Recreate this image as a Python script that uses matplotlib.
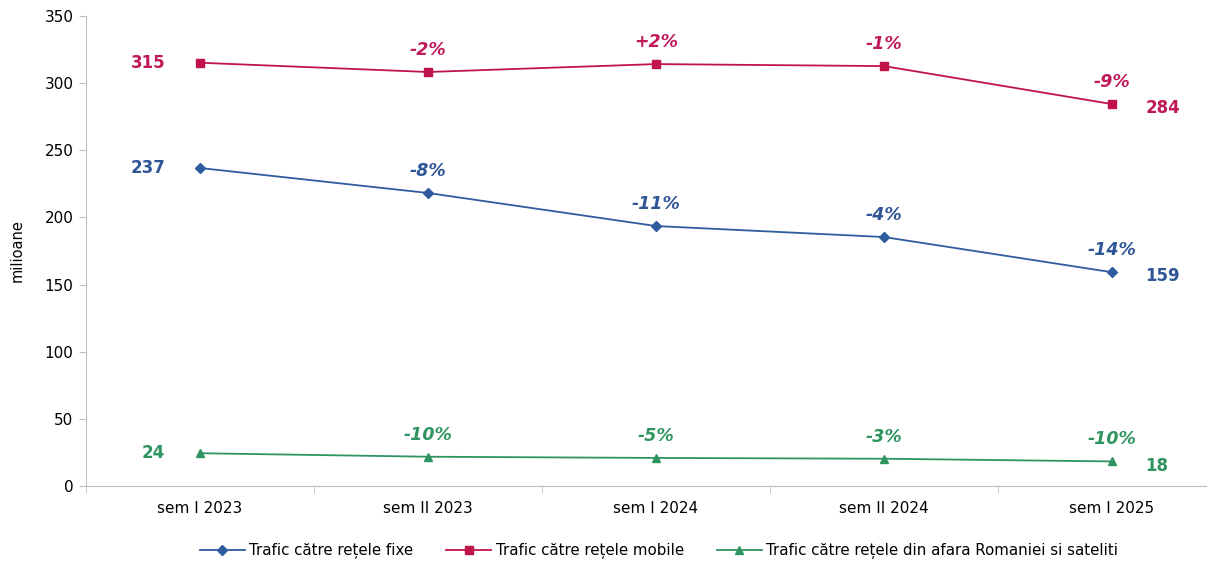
import matplotlib
matplotlib.use("Agg")
import matplotlib.pyplot as plt
from matplotlib.lines import Line2D

categories = ["sem I 2023", "sem II 2023", "sem I 2024", "sem II 2024", "sem I 2025"]
fixe = [236.8, 218.2, 193.6, 185.4, 159.2]
mobile = [315.2, 308.3, 314.2, 312.7, 284.4]
afara = [24.4, 21.8, 20.9, 20.3, 18.3]
pct_fixe = ["-8%", "-11%", "-4%", "-14%"]
pct_mobile = ["-2%", "+2%", "-1%", "-9%"]
pct_afara = ["-10%", "-5%", "-3%", "-10%"]
names = ["Trafic către rețele fixe", "Trafic către rețele mobile",
         "Trafic către rețele din afara Romaniei si sateliti"]

c_blue, c_blue_t = "#2E5C9E", "#2F5597"
c_red, c_red_t = "#C0134A", "#C0195A"
c_green, c_green_t = "#2E9460", "#2E9460"

plt.rcParams['font.family'] = ['DejaVu Sans']
fig = plt.figure(figsize=(12.07, 5.64), dpi=100)
ax = fig.add_axes([86/1207, 78/564, (1207-86)/1207, 470/564])

x = list(range(len(categories)))
series = [(fixe, c_blue, c_blue_t, "D", 5, pct_fixe),
          (mobile, c_red, c_red_t, "s", 6, pct_mobile),
          (afara, c_green, c_green_t, "^", 6, pct_afara)]
for vals, col, tcol, mk, ms, pcts in series:
    ax.plot(x, vals, color=col, lw=1.3, marker=mk, markersize=ms, clip_on=False)
    ax.annotate(f"{round(vals[0])}", (x[0], vals[0]), xytext=(-25, 0), textcoords="offset points",
                ha="right", va="center", color=tcol, fontsize=12, fontweight="bold")
    ax.annotate(f"{round(vals[-1])}", (x[-1], vals[-1]), xytext=(24, -3), textcoords="offset points",
                ha="left", va="center", color=tcol, fontsize=12, fontweight="bold")
    for i, p in enumerate(pcts):
        ax.annotate(p, (x[i+1], vals[i+1]), xytext=(0, 16), textcoords="offset points",
                    ha="center", va="center", color=tcol, fontsize=12.5,
                    fontweight="bold", fontstyle="italic")

ax.set_ylim(0, 350)
ax.set_yticks(range(0, 351, 50))
ax.set_xlim(-0.5, (1207-200)/228)
ax.set_xticks(x)
ax.set_xticklabels(categories)
ax.set_xticks([-0.5, 0.5, 1.5, 2.5, 3.5], minor=True)
ax.tick_params(axis="x", which="major", length=0, pad=11, labelsize=11)
ax.tick_params(axis="x", which="minor", length=5, color="#BFBFBF", direction="out")
ax.tick_params(axis="y", length=5, color="#BFBFBF", labelsize=11, pad=4)
for s in ["top", "right"]:
    ax.spines[s].set_visible(False)
for s in ["left", "bottom"]:
    ax.spines[s].set_color("#BFBFBF")
ax.set_ylabel("milioane", fontsize=10.5, labelpad=14)

handles = [Line2D([], [], color=c_blue, marker="D", markersize=5, lw=1.3),
           Line2D([], [], color=c_red, marker="s", markersize=6, lw=1.3),
           Line2D([], [], color=c_green, marker="^", markersize=6, lw=1.3)]
fig.legend(handles, names, loc="center", bbox_to_anchor=(659/1207, 1 - 551/564), ncol=3,
           frameon=False, fontsize=10.8, handlelength=3, columnspacing=2.2, handletextpad=0.3)

fig.savefig("out.png", dpi=100)
